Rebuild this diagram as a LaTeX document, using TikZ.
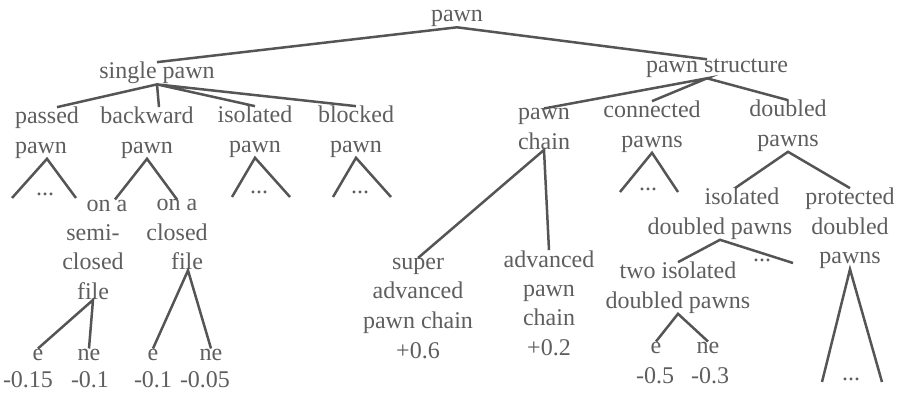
\documentclass[tikz,border=0pt]{standalone}
\usepackage{fontspec}
\setmainfont{Liberation Serif}
\definecolor{txtgray}{HTML}{5E5E5E}
\definecolor{linegray}{HTML}{555555}
\begin{document}
\begin{tikzpicture}[x=1pt,y=-1pt,
    every node/.style={inner sep=0pt,anchor=base,align=center,text=txtgray,
      font=\fontsize{24}{29.5}\selectfont},
    branch/.style={draw=linegray,line width=2.5pt}]
    \useasboundingbox (0,0) rectangle (897,395);
    \node (root) at (457,22) {pawn};
    \node (single) at (157,79) {single pawn}; \node (struct) at (717,73) {pawn structure};
    \node[align=left] (passed) at (47,153.5) {passed\\pawn};
    \node (backward) at (147,153.5) {backward\\pawn};
    \node (isolated) at (255,152.5) {isolated\\pawn}; \node (blocked) at (356,152.5) {blocked\\pawn};
    \node (semiclosed) at (93,299.5) {\hspace*{28pt}on a\\semi-\\closed\\file};
    \node (closedfile) at (177,270) {on a\\closed\\\hspace*{20pt}file};
    \node (e1) at (38,360) {e}; \node (ne1) at (89,360) {ne};
    \node (e2) at (153,360) {e}; \node (ne2) at (211,360) {ne};
    \node (v1) at (28,387) {-0.15}; \node (v2) at (90,387) {-0.1};
    \node (v3) at (153,387) {-0.1}; \node (v4) at (205,387) {-0.05};
    \node (chain) at (544,149.5) {pawn\\chain}; \node (connected) at (652,147.5) {connected\\pawns};
    \node (doubled) at (788,146.5) {doubled\\pawns};
    \node (super) at (418,358) {super\\advanced\\pawn chain\\+0.6};
    \node (adv) at (549,355.5) {advanced\\pawn\\chain\\+0.2};
    \node (isodbl) at (720,234.5) {\hspace*{44pt}isolated\\doubled pawns};
    \node (protected) at (850,264) {protected\\doubled\\pawns};
    \node (twoiso) at (678,308.5) {two isolated\\doubled pawns};
    \node (e3) at (656,353) {e}; \node (ne3) at (708,353) {ne};
    \node (v5) at (655,383) {-0.5}; \node (v6) at (710,383) {-0.3};
    \node (passeddots) at (45,196) {...}; \node (isolateddots) at (259,194) {...};
    \node (blockeddots) at (360,194) {...}; \node (connecteddots) at (648,191) {...};
    \node (isodots) at (762,262) {...}; \node (protecteddots) at (851,381) {...};
    \coordinate (passedL) at (12,198); \coordinate (passedR) at (76,198);
    \coordinate (isolatedL) at (232,197); \coordinate (isolatedR) at (290,197);
    \coordinate (blockedL) at (333,197); \coordinate (blockedR) at (391,197);
    \coordinate (connectedL) at (620,192); \coordinate (connectedR) at (678,192);
    \coordinate (isoend) at (793,263);
    \coordinate (protectedL) at (822,382); \coordinate (protectedR) at (882,382);
    \draw[branch] (single.north) -- (root.south) -- ([xshift=-10pt]struct.north);
    \draw[branch] ([xshift=10pt]passed.north) -- (single.south) -- ([xshift=12pt]backward.north);
    \draw[branch] (isolated.north) -- (single.south) -- (blocked.north);
    \draw[branch] (passedL) -- (passed.south) -- (passedR);
    \draw[branch] ([xshift=22pt]semiclosed.north) -- (backward.south) -- (closedfile.north);
    \draw[branch] (isolatedL) -- (isolated.south) -- (isolatedR);
    \draw[branch] (blockedL) -- (blocked.south) -- (blockedR);
    \draw[branch] (e1.north) -- (semiclosed.south) -- (ne1.north);
    \draw[branch] (e2.north) -- ([xshift=11pt]closedfile.south) -- (ne2.north);
    \draw[branch] (chain.north) -- ([xshift=-10pt]struct.south) -- (connected.north);
    \draw[branch] ([xshift=-10pt]struct.south) -- (doubled.north);
    \draw[branch] (super.north) -- (chain.south) -- (adv.north);
    \draw[branch] (connectedL) -- (connected.south) -- (connectedR);
    \draw[branch] ([xshift=15pt]isodbl.north) -- (doubled.south) -- (protected.north);
    \draw[branch] (twoiso.north) -- (isodbl.south) -- (isoend);
    \draw[branch] (e3.north) -- (twoiso.south) -- (ne3.north);
    \draw[branch] (protectedL) -- (protected.south) -- (protectedR);
\end{tikzpicture}
\end{document}
